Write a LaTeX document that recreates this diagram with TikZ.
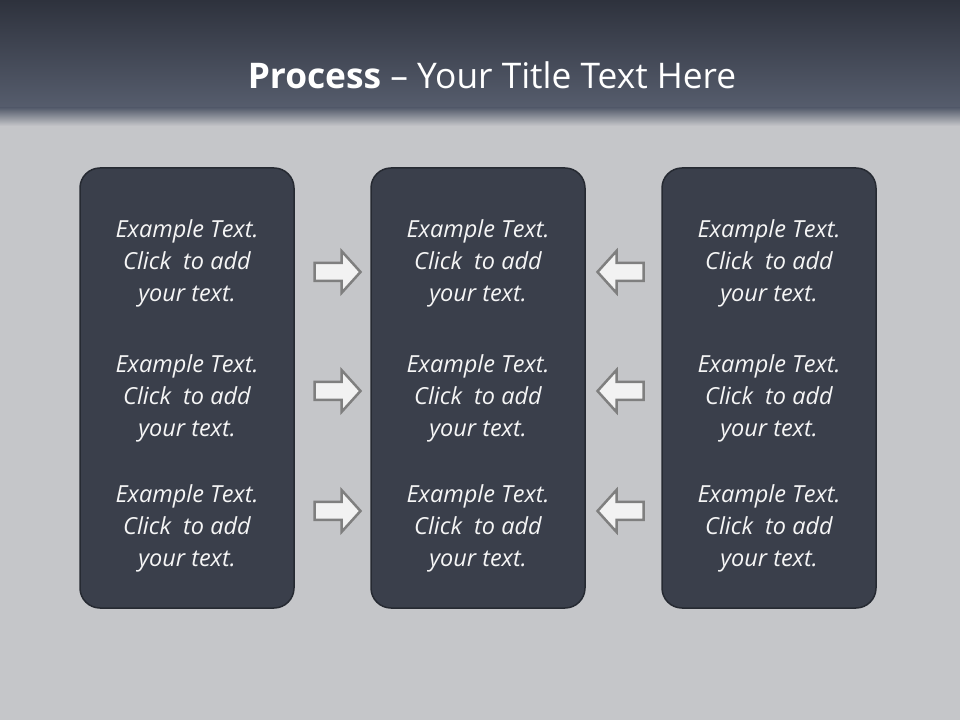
\documentclass[tikz,border=0pt]{standalone}
\usepackage{fontspec}
\setmainfont{Open Sans}
\definecolor{bgback}{HTML}{C5C6C9}
\definecolor{headtop}{HTML}{2E323D}
\definecolor{headbot}{HTML}{565D6D}
\definecolor{boxfill}{HTML}{3A3F4B}
\definecolor{boxline}{HTML}{262A32}
\definecolor{arrline}{HTML}{7F7F7F}
\definecolor{arrfill}{HTML}{F2F2F2}
\tikzset{
  panel/.style={draw=boxline,line width=1.5pt,fill=boxfill,rounded corners=20pt,
    minimum width=214pt,minimum height=440pt,inner sep=0pt},
  blurb/.style={align=center,text=white!96!black,
    font=\fontsize{23.5}{32}\selectfont\itshape},
  flow/.style={draw=arrline,fill=arrfill,line width=2.5pt},
  pics/blockarrow/.style={code={
    \draw[flow] (-23,-9) -- (4,-9) -- (4,-21) -- (23,0) -- (4,21) -- (4,9)
      -- (-23,9) -- cycle;}}
}
\begin{document}
\begin{tikzpicture}[x=1pt,y=1pt]
  % background and header
  \fill[bgback] (0,0) rectangle (960,720);
  \shade[top color=headtop,bottom color=headbot] (0,612) rectangle (960,720);
  \shade[top color=headbot,bottom color=bgback] (0,594) rectangle (960,612);
  \useasboundingbox (0,0) rectangle (960,720);
  \node[text=white,font=\fontsize{35.3}{40}\selectfont] (title) at (492,645)
    {\textbf{Process} – Your Title Text Here};
  % the three panels
  \node[panel] (left) at (187,332) {};
  \node[panel] (mid) at (478,332) {};
  \node[panel] (right) at (769,332) {};
  \foreach \col/\xx in {l/187,m/478,r/769}{
    \foreach \row/\yy in {1/457,2/322,3/192}{
      \node[blurb] (t\col\row) at (\xx,\yy) {Example Text.\\Click\ \ to add\\your text.};
    }
  }
  % arrows between panels
  \foreach \row/\yy in {1/448,2/329,3/209}{
    \pic (ra\row) at (337.5,\yy) {blockarrow};
    \pic[xscale=-1] (la\row) at (620.5,\yy) {blockarrow};
  }
\end{tikzpicture}
\end{document}
